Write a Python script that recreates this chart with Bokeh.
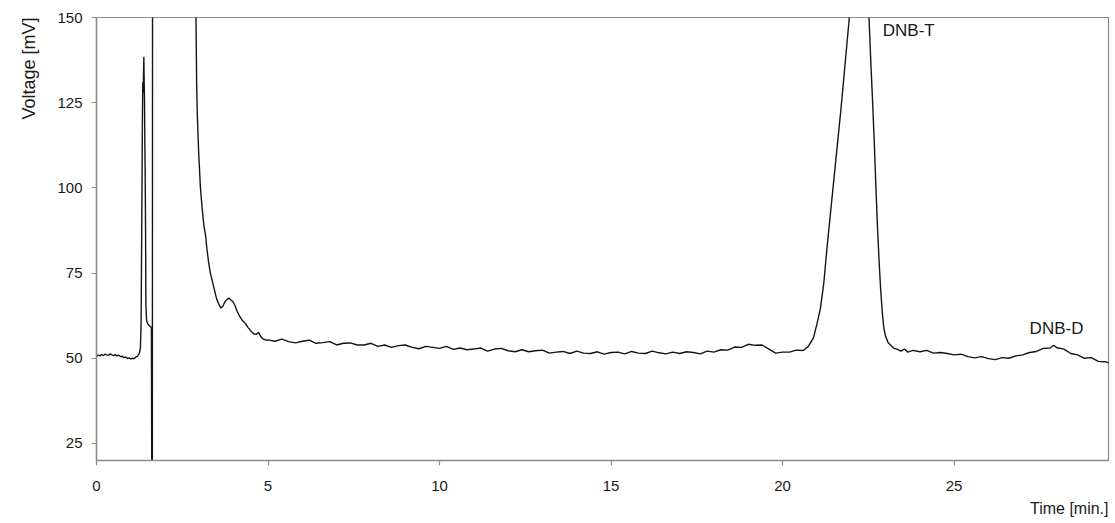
from bokeh.plotting import figure
from bokeh.models import Label, Range1d, FixedTicker, Title
from bokeh.embed import file_html
from bokeh.resources import INLINE

# ---- data ----
time_early = [0.00, 0.05, 0.10, 0.15, 0.20, 0.25, 0.30, 0.35, 0.40, 0.45, 0.50, 0.55, 0.60,
              0.65, 0.70, 0.75, 0.80, 0.85, 0.90, 0.95, 1.00, 1.05, 1.10, 1.15, 1.20, 1.25]
volt_early = [50.6, 50.9, 50.7, 51.1, 50.8, 51.2, 51.0, 50.9, 51.3, 51.0, 50.8, 51.1, 50.7,
              50.9, 50.5, 50.6, 50.2, 50.4, 49.9, 50.1, 49.8, 50.0, 49.9, 50.4, 50.6, 51.5]

time_front = [1.28, 1.30, 1.32, 1.34, 1.35, 1.36, 1.37, 1.38, 1.39, 1.40, 1.41, 1.42, 1.43,
              1.44, 1.46, 1.50, 1.55, 1.60, 1.612, 1.628, 1.635, 2.88,
              2.90, 2.92, 2.94, 2.98, 3.03, 3.08, 3.13, 3.18, 3.22, 3.27, 3.32, 3.38, 3.44,
              3.50, 3.56, 3.62, 3.68, 3.74, 3.80, 3.86, 3.92, 3.98, 4.04, 4.10, 4.18, 4.26,
              4.34, 4.42, 4.50, 4.58, 4.65, 4.72, 4.80, 4.87, 4.95]
volt_front = [53.0, 60.0, 90.0, 122.0, 131.0, 128.0, 133.0, 138.5, 131.0, 125.0, 112.0, 103.0, 88.0,
              66.0, 61.0, 60.0, 59.5, 59.0, 10.0, 10.0, 200.0, 200.0,
              150.0, 130.0, 121.0, 110.0, 100.0, 94.0, 89.0, 86.0, 82.0, 78.0, 75.0, 72.5, 70.0,
              67.5, 66.0, 64.8, 65.2, 66.5, 67.2, 67.7, 67.1, 66.6, 65.4, 63.8, 62.2, 61.0,
              60.2, 59.0, 58.0, 57.2, 57.0, 57.6, 56.2, 55.6, 55.3]

time_base = [5.0, 5.2, 5.4, 5.6, 5.8, 6.0, 6.2, 6.4, 6.6, 6.8, 7.0, 7.2, 7.4, 7.6, 7.8,
             8.0, 8.2, 8.4, 8.6, 8.8, 9.0, 9.2, 9.4, 9.6, 9.8, 10.0, 10.2, 10.4, 10.6, 10.8,
             11.0, 11.2, 11.4, 11.6, 11.8, 12.0, 12.2, 12.4, 12.6, 12.8, 13.0, 13.2, 13.4,
             13.6, 13.8, 14.0, 14.2, 14.4, 14.6, 14.8, 15.0, 15.2, 15.4, 15.6, 15.8, 16.0,
             16.2, 16.4, 16.6, 16.8, 17.0, 17.2, 17.4, 17.6, 17.8, 18.0, 18.2, 18.4, 18.6,
             18.8, 19.0, 19.2, 19.4, 19.6, 19.8, 20.0, 20.2, 20.4, 20.6]
volt_base = [55.4, 55.0, 55.6, 54.9, 54.5, 55.0, 55.3, 54.4, 54.6, 54.9, 53.9, 54.4, 54.5, 53.9, 53.9,
             54.4, 53.5, 53.9, 53.2, 53.7, 53.9, 53.2, 52.8, 53.5, 53.2, 52.9, 53.5, 52.6, 53.0, 52.5,
             52.7, 53.0, 52.1, 52.7, 52.9, 52.2, 51.9, 52.5, 51.9, 52.2, 52.4, 51.5, 51.8,
             52.0, 51.4, 52.1, 51.5, 51.4, 51.9, 51.2, 51.7, 51.8, 51.3, 52.0, 51.5, 51.4,
             52.1, 51.6, 51.3, 51.8, 51.4, 51.9, 51.7, 51.3, 52.1, 51.8, 52.5, 52.4, 53.3,
             53.2, 54.1, 53.8, 53.9, 52.7, 51.5, 51.8, 51.8, 52.4, 52.3]

time_late = [20.75, 20.9, 21.0, 21.1, 21.2, 21.3, 21.4, 21.5, 21.6, 21.7, 21.8, 21.9, 21.95,
             22.0, 22.2, 22.4, 22.5, 22.53, 22.58, 22.62, 22.67, 22.71, 22.76, 22.81, 22.86,
             22.91, 22.95, 23.0, 23.08, 23.15, 23.25, 23.35, 23.45, 23.55, 23.65, 23.8, 24.0,
             24.2, 24.4, 24.6, 24.8, 25.0, 25.2, 25.4, 25.6, 25.8, 26.0, 26.2, 26.4, 26.6,
             26.8, 27.0, 27.2, 27.4, 27.6, 27.8, 27.9, 28.0, 28.2, 28.4, 28.6, 28.8, 29.0,
             29.2, 29.4, 29.6]
volt_late = [53.5, 56.0, 60.0, 64.5, 72.0, 83.0, 93.0, 103.0, 113.0, 123.0, 134.0, 145.0, 150.5,
             160.0, 200.0, 200.0, 155.0, 147.0, 135.0, 126.0, 114.0, 103.0, 90.0, 79.0, 70.0,
             63.0, 59.0, 56.5, 54.5, 53.9, 52.9, 52.6, 52.1, 52.7, 51.8, 52.3, 51.9,
             52.3, 51.5, 51.7, 51.4, 51.0, 51.2, 50.5, 50.1, 50.5, 49.9, 49.6, 50.2, 50.0,
             50.7, 51.0, 51.7, 52.0, 52.9, 53.0, 53.8, 53.1, 52.7, 51.4, 51.0, 50.0, 50.2,
             49.1, 49.0, 48.3]

x_ticks = [0, 5, 10, 15, 20, 25]
y_ticks = [25, 50, 75, 100, 125, 150]
peak_names = ["DNB-T", "DNB-D"]
peak_label_x = [22.92, 27.2]
peak_label_y = [146.2, 58.8]

time = time_early + time_front + time_base + time_late
volt = volt_early + volt_front + volt_base + volt_late

FONT = "Liberation Sans"
TXT = "#1a1a1a"
AX = "#8a8a8a"

p = figure(width=1113, height=523, output_backend="svg", toolbar_location=None,
           x_range=Range1d(0, 29.5), y_range=Range1d(20, 150),
           min_border_left=96, min_border_right=5, min_border_top=17, min_border_bottom=63)
p.background_fill_color = "white"
p.border_fill_color = "white"
p.outline_line_color = AX
p.outline_line_width = 1.2
p.grid.visible = False

p.line(time, volt, line_color="#141414", line_width=1.4)

for ax in (p.xaxis[0], p.yaxis[0]):
    ax.axis_line_color = AX
    ax.axis_line_width = 1.5
    ax.major_tick_line_color = AX
    ax.major_tick_line_width = 1.2
    ax.major_tick_out = 5
    ax.major_tick_in = 0
    ax.minor_tick_line_color = None
    ax.major_label_text_font = FONT
    ax.major_label_text_font_size = "15px"
    ax.major_label_text_color = TXT
p.xaxis.ticker = FixedTicker(ticks=x_ticks)
p.yaxis.ticker = FixedTicker(ticks=y_ticks)
p.xaxis.major_label_standoff = 15
p.yaxis.major_label_standoff = 9

for name, lx, ly in zip(peak_names, peak_label_x, peak_label_y):
    p.add_layout(Label(x=lx, y=ly, text=name, text_font=FONT, text_font_size="17px",
                       text_color=TXT, text_baseline="middle", text_align="left"))

p.add_layout(Title(text="Time [min.]", align="right", text_font=FONT, text_font_size="16px",
                   text_color=TXT, text_font_style="normal", standoff=9), "below")
p.add_layout(Title(text="Voltage [mV]", align="right", text_font=FONT, text_font_size="18px",
                   text_color=TXT, text_font_style="normal", standoff=32), "left")

open("out.html", "w").write(file_html(p, INLINE))
